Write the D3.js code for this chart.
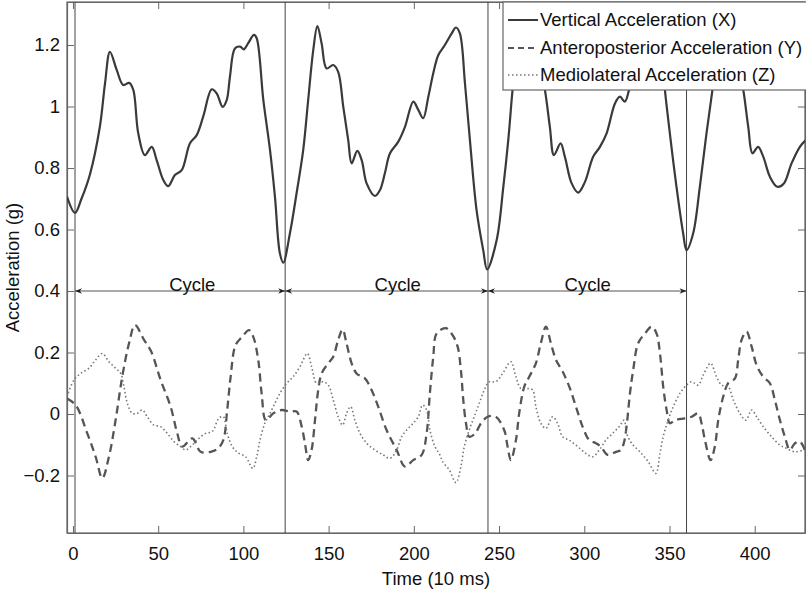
<!DOCTYPE html>
<html><head><meta charset="utf-8">
<script src="https://cdn.jsdelivr.net/npm/d3@7"></script>
<style>
body{margin:0;background:#fff}
svg text{font-family:"Liberation Sans",Arial,Helvetica,sans-serif;fill:#111}
</style>
</head><body>
<svg id="chart" width="806" height="593"></svg>
<script>
// ---- data ----
const vertTime = [-3.5,1.2,5,10,15.8,18.8,21.7,25.6,29.5,33,35.4,38.3,42.2,46.2,49.1,53,55.9,59.8,63.8,68.6,72.6,76.4,81.4,84.3,87.8,90.2,92.1,95,98,100.3,102.9,106.2,107.8,111.7,115.6,118.5,121.4,123.4,127.3,131.2,135.1,138,141,143.4,145.9,148.8,152.7,155.6,158.6,161.5,163.5,166.8,169.4,172.3,177.2,180.1,183,186,190.9,194.8,199.7,202.6,205.5,208.5,211.4,214.3,218.2,222.2,224.7,227,230,232.9,236.8,240.7,243,248.6,252.5,255.4,258.3,261,263.5,266.5,269.5,272.5,275,276.9,279.8,282.2,286.1,288.6,292.6,296.4,300.4,305.2,309.2,313.1,318,320.9,323.8,326.3,330,334,338,342,344.5,347.3,350.2,354.1,358,360,363.9,367.8,371.7,375.2,378,380.5,383.5,386.5,389.5,391.5,393.3,396.2,398.7,402,405,408.9,413.2,417.1,421.6,426.5,430];
const vertAcc = [0.707,0.654,0.70,0.78,0.935,1.075,1.178,1.12,1.07,1.077,1.054,0.913,0.842,0.869,0.826,0.761,0.741,0.777,0.793,0.880,0.907,0.967,1.056,1.043,0.999,1.021,1.097,1.189,1.195,1.186,1.207,1.233,1.222,1.021,0.859,0.707,0.523,0.492,0.588,0.718,0.859,1.021,1.184,1.262,1.205,1.124,1.135,1.113,0.999,0.891,0.815,0.856,0.826,0.75,0.709,0.728,0.783,0.848,0.886,0.934,1.016,0.989,0.962,1.032,1.108,1.167,1.2,1.238,1.257,1.238,1.075,0.891,0.663,0.533,0.470,0.566,0.739,0.891,1.075,1.19,1.24,1.17,1.11,1.125,1.10,1.054,0.934,0.842,0.88,0.837,0.750,0.72,0.755,0.837,0.869,0.913,1.01,1.032,1.016,1.054,1.13,1.19,1.22,1.25,1.22,1.054,0.913,0.739,0.588,0.533,0.588,0.739,0.913,1.054,1.18,1.24,1.16,1.11,1.125,1.10,1.054,0.934,0.848,0.869,0.837,0.772,0.739,0.75,0.815,0.869,0.891];

const apTime = [-3.5,1.6,8.4,13.3,17.2,21.1,25,28.9,32.9,36.4,41.7,45.9,51.4,57.3,61.2,64.1,70,74.9,80.8,85.1,88.2,90.5,92.5,95.4,99.3,103.2,105.8,108.7,110.7,113.2,117.5,122.4,127.3,131.2,134.2,136.1,138,140,142,143.9,145.9,149.8,152.7,155.6,158.2,160.5,163.5,166.4,171.3,175.2,179.1,184,189.9,194.8,199.6,204.6,207.5,209.4,211.4,213.4,218.8,222.7,225.7,227.6,229,230.6,232.5,236,239.4,243.3,248.1,253,255,256.9,259.9,261.8,264.8,267.7,271.6,274.5,277.5,280.4,283.4,287.3,291.2,295.1,299,302.9,306.8,309.7,313.7,318.6,321.5,323.4,324.8,326.8,328.7,331.6,335.6,339.5,342.4,344.4,346.3,348.3,350.2,353.2,359,363,366.8,368.8,370.8,374.1,376.6,378.6,381.5,384.4,388.4,390.3,392.3,395.2,398.2,401.1,405,408.9,411.8,414.8,417.7,420.6,423.6,426.5,429.4];
const apAcc = [0.05,0.029,-0.063,-0.139,-0.209,-0.139,-0.02,0.121,0.23,0.289,0.241,0.203,0.111,0.024,-0.063,-0.106,-0.079,-0.123,-0.123,-0.112,-0.085,0.013,0.121,0.224,0.251,0.273,0.251,0.176,0.067,-0.02,0.002,0.013,0.008,0.008,-0.041,-0.095,-0.15,-0.117,-0.02,0.078,0.132,0.165,0.186,0.241,0.275,0.23,0.165,0.132,0.116,0.078,0.024,-0.052,-0.117,-0.171,-0.15,-0.133,-0.063,0.067,0.186,0.262,0.279,0.257,0.219,0.143,0.046,-0.03,-0.074,-0.063,-0.03,-0.009,-0.009,-0.052,-0.106,-0.15,-0.085,0.002,0.089,0.121,0.165,0.23,0.284,0.23,0.176,0.138,0.089,0.024,-0.041,-0.085,-0.095,-0.106,-0.133,-0.123,-0.117,-0.09,-0.041,0.067,0.143,0.23,0.262,0.284,0.262,0.197,0.089,0.013,-0.03,-0.02,-0.014,-0.009,0.002,-0.03,-0.085,-0.15,-0.106,-0.02,0.056,0.1,0.116,0.176,0.241,0.268,0.219,0.159,0.121,0.1,0.046,-0.02,-0.074,-0.117,-0.095,-0.09,-0.117];

const mlTime = [-3.5,0.6,4.5,9.4,13.3,17.2,21.1,25,28,29.9,31.9,34.8,37.7,40.7,43.6,47.5,51.4,55.3,59.3,63.2,66.1,70,73.9,77.8,81.7,85.6,88.2,90.5,93.5,97.4,101.3,105.5,107.8,109.7,112.6,115.6,118.5,121.4,125.4,129.2,133.2,137.5,140,143,146.8,149.8,152.7,155.6,158.2,160.5,162.9,165.4,168.4,172.3,177.2,182,186,189.9,192.8,195.8,199.6,202.6,205.1,207.5,209.4,212.4,215.3,216.9,220.8,224.7,227.6,229.6,232.5,235.4,238.4,241.3,244.2,248.1,252.1,256.9,259.9,262.8,266.7,269.7,271.6,274.5,277.5,281.4,284.3,287.3,291.2,296.1,300.9,304.9,308.8,312.7,316.6,320.5,323.4,324.8,327.8,332.6,337.5,342,344.4,346.3,349.2,352.2,356.1,360,363,366.8,369.8,374.1,377.6,380.6,384.4,387.4,391.3,394.8,398.2,401.1,405,409.9,414.8,418.7,423.6,428.4];
const mlAcc = [0.056,0.111,0.132,0.149,0.176,0.197,0.17,0.149,0.132,0.089,0.035,0.002,0.002,0.013,-0.009,-0.036,-0.041,-0.063,-0.09,-0.106,-0.117,-0.101,-0.079,-0.063,-0.057,-0.014,-0.009,-0.063,-0.106,-0.128,-0.139,-0.177,-0.139,-0.085,-0.03,0.002,0.035,0.067,0.1,0.121,0.154,0.197,0.154,0.1,0.105,0.094,0.046,-0.009,-0.036,0.002,0.024,-0.02,-0.063,-0.095,-0.117,-0.133,-0.144,-0.117,-0.074,-0.052,-0.03,-0.009,0.029,0.013,-0.052,-0.106,-0.133,-0.155,-0.182,-0.223,-0.171,-0.106,-0.052,-0.009,0.035,0.078,0.105,0.105,0.132,0.17,0.121,0.083,0.083,0.078,0.024,-0.03,-0.047,-0.009,-0.03,-0.074,-0.085,-0.106,-0.128,-0.139,-0.117,-0.085,-0.063,-0.041,-0.02,-0.063,-0.095,-0.123,-0.155,-0.193,-0.128,-0.074,-0.02,0.024,0.067,0.094,0.105,0.094,0.127,0.165,0.121,0.094,0.089,0.046,0.002,-0.02,0.013,-0.009,-0.041,-0.074,-0.101,-0.112,-0.123,-0.117];

const cycleBounds = [1.2, 124.5, 243.5, 360];
const cycleLevel = 0.4;
const cycleLabel = "Cycle";
const cycleLabelX = [70, 190.5, 302];
const xTicks = [0,50,100,150,200,250,300,350,400];
const yTicks = [-0.2,0,0.2,0.4,0.6,0.8,1,1.2];
const seriesNames = ["Vertical Acceleration (X)","Anteroposterior Acceleration (Y)","Mediolateral Acceleration (Z)"];
const xLabel = "Time (10 ms)";
const yLabel = "Acceleration (g)";

// ---- layout ----
const FS = 18.5;
const svg = d3.select("#chart");
const L = 67, R = 805, T = 2, B = 533;
const x = d3.scaleLinear().domain([-3.5, 429.5]).range([L, R]);
const y = d3.scaleLinear().domain([-0.387, 1.340]).range([B, T]);
const axisCol = "#666";

const defs = svg.append("defs");
defs.append("clipPath").attr("id","clip")
  .append("rect").attr("x",L).attr("y",T).attr("width",R-L).attr("height",B-T);
defs.append("marker").attr("id","arr").attr("viewBox","0 0 10 10")
  .attr("refX",10).attr("refY",5).attr("markerWidth",9).attr("markerHeight",7)
  .attr("markerUnits","userSpaceOnUse").attr("orient","auto-start-reverse")
  .append("path").attr("d","M0,1 L10,5 L0,9 L3,5 Z").attr("fill","#222");

// frame
svg.append("rect").attr("x",L).attr("y",T).attr("width",R-L).attr("height",B-T)
  .attr("fill","none").attr("stroke",axisCol).attr("stroke-width",1.2);

const fmt = d => d < 0 ? "\u2212" + Math.abs(d) : String(d);
const tickLen = 7;
const gx = svg.append("g").attr("transform",`translate(0,${B})`)
  .call(d3.axisBottom(x).tickValues(xTicks).tickSizeInner(-tickLen).tickSizeOuter(0).tickPadding(14).tickFormat(fmt));
const gxt = svg.append("g").attr("transform",`translate(0,${T})`)
  .call(d3.axisTop(x).tickValues(xTicks).tickSizeInner(-tickLen).tickSizeOuter(0).tickFormat(""));
const gy = svg.append("g").attr("transform",`translate(${L},0)`)
  .call(d3.axisLeft(y).tickValues(yTicks).tickSizeInner(-tickLen).tickSizeOuter(0).tickPadding(7).tickFormat(fmt));
const gyr = svg.append("g").attr("transform",`translate(${R},0)`)
  .call(d3.axisRight(y).tickValues(yTicks).tickSizeInner(-tickLen).tickSizeOuter(0).tickFormat(""));
[gx,gxt,gy,gyr].forEach(g=>{
  g.select(".domain").attr("stroke",axisCol).attr("stroke-width",1.2);
  g.selectAll(".tick line").attr("stroke",axisCol);
  g.selectAll(".tick text").attr("font-size",FS).attr("fill","#111")
   .style("font-family","'Liberation Sans',Arial,sans-serif");
});
gx.selectAll(".tick text").attr("dy","0.71em");

// axis labels
svg.append("text").attr("x",(L+R)/2).attr("y",585).attr("text-anchor","middle")
  .attr("font-size",FS).text(xLabel);
svg.append("text").attr("transform",`translate(19,${(T+B)/2}) rotate(-90)`)
  .attr("text-anchor","middle").attr("font-size",FS).text(yLabel);

const plot = svg.append("g").attr("clip-path","url(#clip)");

// cycle boundaries
plot.selectAll("line.bound").data(cycleBounds).join("line").attr("class","bound")
  .attr("x1",d=>x(d)).attr("x2",d=>x(d)).attr("y1",T).attr("y2",B)
  .attr("stroke","#444").attr("stroke-width",1);

// series
const mk = (t,v)=>t.map((d,i)=>[d,v[i]]);
const line = d3.line().x(d=>x(d[0])).y(d=>y(d[1])).curve(d3.curveCatmullRom.alpha(0.5));
const styles = [
  {data: mk(vertTime, vertAcc), color:"#3a3a3a", w:2.2, dash:null},
  {data: mk(apTime, apAcc), color:"#555", w:2.3, dash:"8,5"},
  {data: mk(mlTime, mlAcc), color:"#777", w:1.6, dash:"1.5,2.5"}
];
styles.forEach(s=>{
  plot.append("path").attr("d",line(s.data)).attr("fill","none")
    .attr("stroke",s.color).attr("stroke-width",s.w)
    .attr("stroke-dasharray",s.dash).attr("stroke-linejoin","round");
});

// cycle arrows
for (let i=0;i<cycleBounds.length-1;i++){
  plot.append("line").attr("x1",x(cycleBounds[i])).attr("x2",x(cycleBounds[i+1]))
    .attr("y1",y(cycleLevel)).attr("y2",y(cycleLevel))
    .attr("stroke","#555").attr("stroke-width",1.2)
    .attr("marker-start","url(#arr)").attr("marker-end","url(#arr)");
  svg.append("text").attr("x",x(cycleLabelX[i])).attr("y",y(cycleLevel)-0.5)
    .attr("text-anchor","middle").attr("font-size",FS).text(cycleLabel);
}

// legend
const lg = svg.append("g");
lg.append("rect").attr("x",503).attr("y",T).attr("width",310).attr("height",88)
  .attr("fill","#fff").attr("stroke",axisCol).attr("stroke-width",1.2);
const legY = [20, 48, 75];
styles.forEach((s,i)=>{
  lg.append("line").attr("x1",508).attr("x2",538).attr("y1",legY[i]).attr("y2",legY[i])
    .attr("stroke",s.color).attr("stroke-width",Math.min(s.w,2))
    .attr("stroke-dasharray", i===1 ? "6,4" : s.dash);
  lg.append("text").attr("x",540).attr("y",legY[i]).attr("dy","0.35em")
    .attr("font-size",FS).text(seriesNames[i]);
});
</script>
</body></html>
